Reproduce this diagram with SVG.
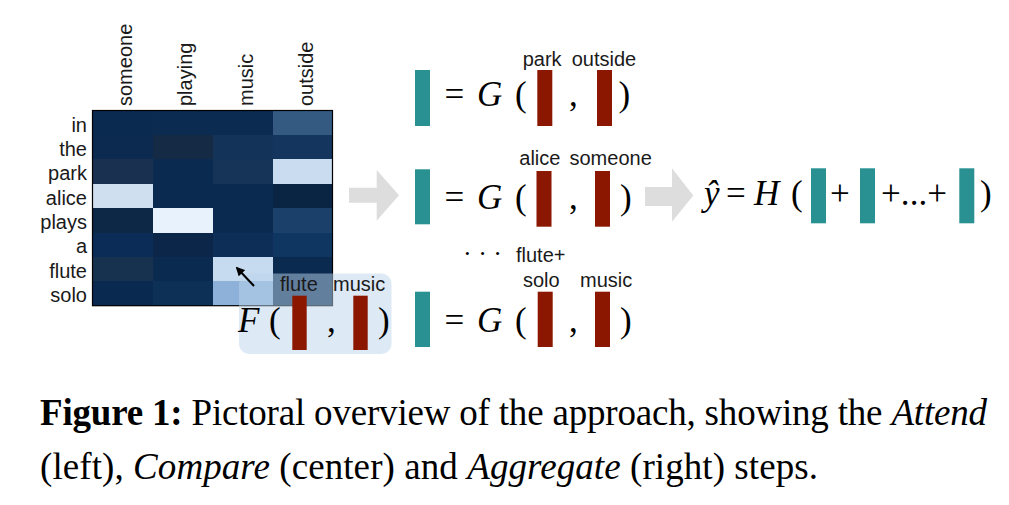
<svg xmlns="http://www.w3.org/2000/svg" width="1009" height="505" viewBox="0 0 1009 505">
<style>
.lbl{font-family:"Liberation Sans",Arial,sans-serif;font-size:20px;fill:#1a1a1a}
.m{font-family:"Liberation Serif","Times New Roman",serif;font-size:35px;fill:#000}
.mi{font-family:"Liberation Serif","Times New Roman",serif;font-size:35px;font-style:italic;fill:#000}
.teal{fill:#299192}
.red{fill:#8c1700}
.cap{font-family:"Liberation Serif","Times New Roman",serif;font-size:37px;fill:#000}
.garrow{fill:#dddddd}
.cells rect{shape-rendering:crispEdges}
</style>
<defs>
<marker id="ah" viewBox="0 0 10 10" refX="8" refY="5" markerWidth="4.5" markerHeight="4.5" orient="auto">
<path d="M0,0 L10,5 L0,10 z" fill="#000"/>
</marker>
</defs>
<rect width="1009" height="505" fill="#fff"/>

<g id="heatmap">
<g class="cells">
<rect x="92.5" y="110.5" width="60" height="24.4" fill="#0b2a50"/>
<rect x="152.5" y="110.5" width="60" height="24.4" fill="#0b2b50"/>
<rect x="212.5" y="110.5" width="60" height="24.4" fill="#0b2b50"/>
<rect x="272.5" y="110.5" width="60" height="24.4" fill="#345a82"/>

<rect x="92.5" y="134.9" width="60" height="24.4" fill="#0c2a50"/>
<rect x="152.5" y="134.9" width="60" height="24.4" fill="#152a45"/>
<rect x="212.5" y="134.9" width="60" height="24.4" fill="#143358"/>
<rect x="272.5" y="134.9" width="60" height="24.4" fill="#14365e"/>

<rect x="92.5" y="159.3" width="60" height="24.4" fill="#1a3050"/>
<rect x="152.5" y="159.3" width="60" height="24.4" fill="#0b2a50"/>
<rect x="212.5" y="159.3" width="60" height="24.4" fill="#163458"/>
<rect x="272.5" y="159.3" width="60" height="24.4" fill="#cadcf0"/>

<rect x="92.5" y="183.7" width="60" height="24.4" fill="#cfdff0"/>
<rect x="152.5" y="183.7" width="60" height="24.4" fill="#0b2a50"/>
<rect x="212.5" y="183.7" width="60" height="24.4" fill="#0b2a50"/>
<rect x="272.5" y="183.7" width="60" height="24.4" fill="#0a2444"/>

<rect x="92.5" y="208.1" width="60" height="24.4" fill="#0d2746"/>
<rect x="152.5" y="208.1" width="60" height="24.4" fill="#e8f2fc"/>
<rect x="212.5" y="208.1" width="60" height="24.4" fill="#0b2a50"/>
<rect x="272.5" y="208.1" width="60" height="24.4" fill="#1b4069"/>

<rect x="92.5" y="232.5" width="60" height="24.4" fill="#0b2c56"/>
<rect x="152.5" y="232.5" width="60" height="24.4" fill="#0b2648"/>
<rect x="212.5" y="232.5" width="60" height="24.4" fill="#0c2e57"/>
<rect x="272.5" y="232.5" width="60" height="24.4" fill="#0e3661"/>

<rect x="92.5" y="256.9" width="60" height="24.4" fill="#16324f"/>
<rect x="152.5" y="256.9" width="60" height="24.4" fill="#0b2a50"/>
<rect x="212.5" y="256.9" width="60" height="24.4" fill="#c6dbef"/>
<rect x="272.5" y="256.9" width="60" height="24.4" fill="#0b2a50"/>

<rect x="92.5" y="281.3" width="60" height="24.4" fill="#0a2950"/>
<rect x="152.5" y="281.3" width="60" height="24.4" fill="#0d3056"/>
<rect x="212.5" y="281.3" width="60" height="24.4" fill="#8db1d8"/>
<rect x="272.5" y="281.3" width="60" height="24.4" fill="#0b2a50"/>
</g>
<rect x="92.5" y="110.5" width="240" height="195.2" fill="none" stroke="#000" stroke-width="1.2"/>
<g class="lbl" text-anchor="end">
<text x="87" y="131.5">in</text>
<text x="87" y="155.5">the</text>
<text x="87" y="180">park</text>
<text x="87" y="204.5">alice</text>
<text x="87" y="228.5">plays</text>
<text x="87" y="253">a</text>
<text x="87" y="277.5">flute</text>
<text x="87" y="301.5">solo</text>
</g>
<g class="lbl">
<text transform="translate(131.5,106) rotate(-90)">someone</text>
<text transform="translate(191.5,106) rotate(-90)">playing</text>
<text transform="translate(252.5,106) rotate(-90)">music</text>
<text transform="translate(312.5,106) rotate(-90)">outside</text>
</g>
</g>

<g id="attend-F">
<rect x="239" y="273.5" width="152.5" height="80.5" rx="10" fill="#bcd3ec" fill-opacity="0.5"/>
<text class="lbl" x="280" y="290.7">flute</text>
<text class="lbl" x="333" y="290.7">music</text>
<text class="mi" x="238" y="331.7">F</text>
<text class="m" x="269" y="331.7">(</text>
<text class="m" x="327" y="331.7">,</text>
<text class="m" x="378" y="331.7">)</text>
<rect class="red" x="292.3" y="295.7" width="14.4" height="54.3"/>
<rect class="red" x="353.3" y="295.7" width="14.4" height="54.3"/>
</g>

<g id="compare-1">
<rect class="teal" x="415" y="70" width="15" height="56"/>
<text class="m" x="444.5" y="106">=</text>
<text class="mi" x="477" y="106">G</text>
<text class="m" x="515" y="106">(</text>
<rect class="red" x="537.3" y="70" width="15" height="56"/>
<text class="m" x="569" y="106">,</text>
<rect class="red" x="597" y="70" width="15" height="56"/>
<text class="m" x="618.5" y="106">)</text>
<text class="lbl" x="522.7" y="66">park</text>
<text class="lbl" x="571.7" y="66">outside</text>
</g>

<g id="compare-2">
<rect class="teal" x="415" y="169.3" width="15" height="55"/>
<text class="m" x="444.5" y="209">=</text>
<text class="mi" x="477" y="209">G</text>
<text class="m" x="515" y="209">(</text>
<rect class="red" x="536.5" y="171" width="15" height="55.7"/>
<text class="m" x="569" y="209">,</text>
<rect class="red" x="595" y="171" width="15" height="55.7"/>
<text class="m" x="620" y="209">)</text>
<text class="lbl" x="519.3" y="165">alice</text>
<text class="lbl" x="569.5" y="165">someone</text>
</g>

<g id="compare-3">
<text class="m" x="463" y="262" style="font-size:26px">· · ·</text>
<text class="lbl" x="516" y="261.7">flute+</text>
<text class="lbl" x="523" y="287">solo</text>
<text class="lbl" x="580" y="287">music</text>
<rect class="teal" x="415" y="291.7" width="15" height="55.3"/>
<text class="m" x="444.5" y="331.7">=</text>
<text class="mi" x="477" y="331.7">G</text>
<text class="m" x="515" y="331.7">(</text>
<rect class="red" x="537.7" y="291.7" width="15" height="55.3"/>
<text class="m" x="569" y="331.7">,</text>
<rect class="red" x="595" y="291.7" width="15" height="55.3"/>
<text class="m" x="620" y="331.7">)</text>
</g>

<g id="aggregate">
<text class="mi" x="704" y="205">ŷ</text>
<text class="m" x="726" y="205">=</text>
<text class="mi" x="754" y="205">H</text>
<text class="m" x="791" y="205">(</text>
<rect class="teal" x="811" y="168.3" width="15" height="55"/>
<text class="m" x="830" y="205">+</text>
<rect class="teal" x="860" y="168.3" width="15" height="55"/>
<text class="m" x="881" y="205" textLength="66">+...+</text>
<rect class="teal" x="959.3" y="168.3" width="15" height="55"/>
<text class="m" x="980" y="205">)</text>
</g>

<g id="connectors">
<path class="garrow" d="M349,187.7 H376.7 V170 L399,195.3 L376.7,220.7 V202.7 H349 Z"/>
<path class="garrow" d="M645,187 H672 V168.3 L693.3,195.5 L672,221.7 V206 H645 Z"/>
<line x1="254" y1="286" x2="237" y2="268" stroke="#000" stroke-width="2" marker-end="url(#ah)"/>
</g>

<g id="caption">
<text class="cap" x="40" y="425" textLength="947"><tspan font-weight="bold">Figure 1:</tspan> Pictoral overview of the approach, showing the <tspan font-style="italic">Attend</tspan></text>
<text class="cap" x="40" y="479" textLength="778"><tspan>(left), </tspan><tspan font-style="italic">Compare</tspan> (center) and <tspan font-style="italic">Aggregate</tspan> (right) steps.</text>
</g>
</svg>
